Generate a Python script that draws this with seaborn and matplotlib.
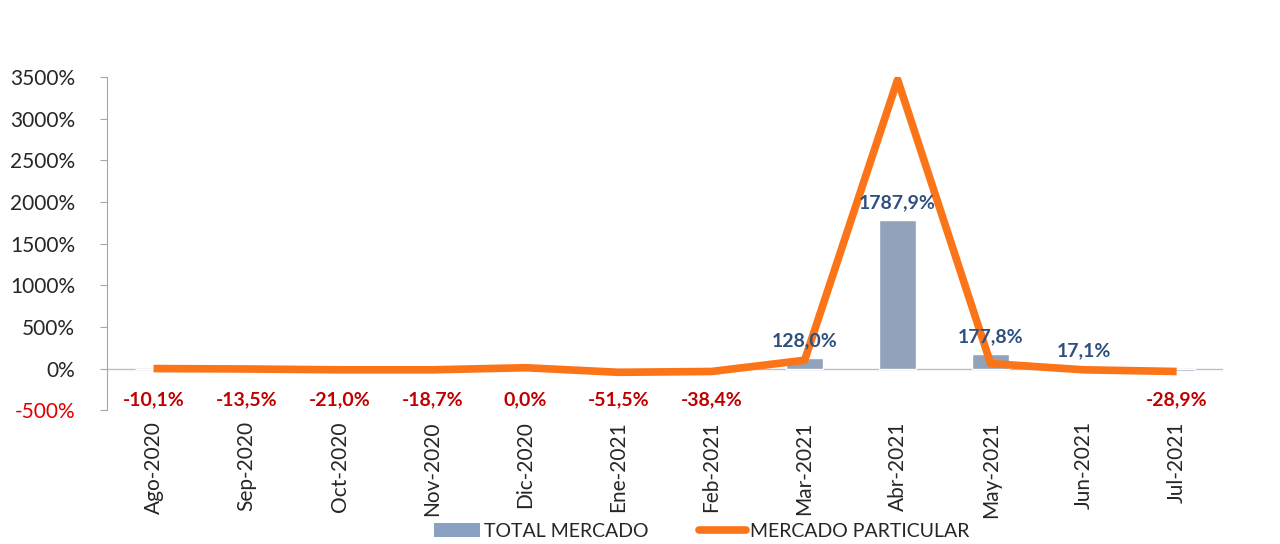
import numpy as np
import pandas as pd
import matplotlib.pyplot as plt
import seaborn as sns
from matplotlib.patches import Patch
from matplotlib.lines import Line2D

# datos
meses = ['Ago-2020', 'Sep-2020', 'Oct-2020', 'Nov-2020', 'Dic-2020', 'Ene-2021',
         'Feb-2021', 'Mar-2021', 'Abr-2021', 'May-2021', 'Jun-2021', 'Jul-2021']
total_mercado = [-10.1, -13.5, -21.0, -18.7, 0.0, -51.5, -38.4, 128.0, 1787.9, 177.8, 17.1, -28.9]
mercado_particular = [0, -5, -15, -15, 10, -45, -35, 100, 3470, 60, -15, -35]

df = pd.DataFrame({'mes': meses, 'total': total_mercado, 'particular': mercado_particular})
df['pos'] = np.arange(len(df))

sns.set_style('white')
plt.rcParams['font.family'] = ['Lato', 'DejaVu Sans']

color_barra = '#8aa1c1'
color_linea = '#fb7418'

fig = plt.figure(figsize=(12.8, 5.44), dpi=100)
ax = fig.add_axes([0.0836, 0.246, 0.872, 0.612])

sns.barplot(data=df, x='mes', y='total', color=color_barra, width=0.4, ax=ax, zorder=2)
sns.lineplot(data=df, x='pos', y='particular', color=color_linea, linewidth=5.5, ax=ax,
             zorder=3, solid_capstyle='butt')

ax.axhline(0, color='#bfbfbf', linewidth=1, zorder=1)

# etiquetas de valores
for i, v in enumerate(total_mercado):
    txt = f'{v:.1f}'.replace('.', ',') + '%'
    if v <= 0:
        ax.annotate(txt, (i, 0), xytext=(0, -16), textcoords='offset points',
                    ha='center', va='top', color='#c00000', fontsize=14, fontweight='bold')
    else:
        ax.annotate(txt, (i, v), xytext=(0, 6), textcoords='offset points',
                    ha='center', va='bottom', color='#2f4f7f', fontsize=14, fontweight='bold')

ax.set_xlim(-0.5, len(meses) - 0.5)
ax.set_ylim(-500, 3500)
ax.set_yticks(np.arange(-500, 3501, 500))
ax.set_yticklabels([f'{t}%' for t in range(-500, 3501, 500)], fontsize=15)
ax.get_yticklabels()[0].set_color('#e00000')
ax.tick_params(axis='y', length=5, direction='out', color='#a6a6a6', left=True, pad=18)
ax.set_xticks(df['pos'])
ax.set_xticklabels(meses, rotation=90, fontsize=15)
ax.tick_params(axis='x', length=0, pad=8)
ax.set_xlabel('')
ax.set_ylabel('')

for s in ['top', 'right', 'bottom']:
    ax.spines[s].set_visible(False)
ax.spines['left'].set_color('#a6a6a6')

handles = [Patch(facecolor=color_barra, edgecolor='none'),
           Line2D([0], [0], color=color_linea, linewidth=5.5)]
fig.legend(handles, ['TOTAL MERCADO', 'MERCADO PARTICULAR'], loc='lower center',
           bbox_to_anchor=(0.548, -0.025), ncol=2, frameon=False, fontsize=14,
           handlelength=2.4, handletextpad=0.2, columnspacing=2.6)

fig.savefig('out.png', dpi=100)
